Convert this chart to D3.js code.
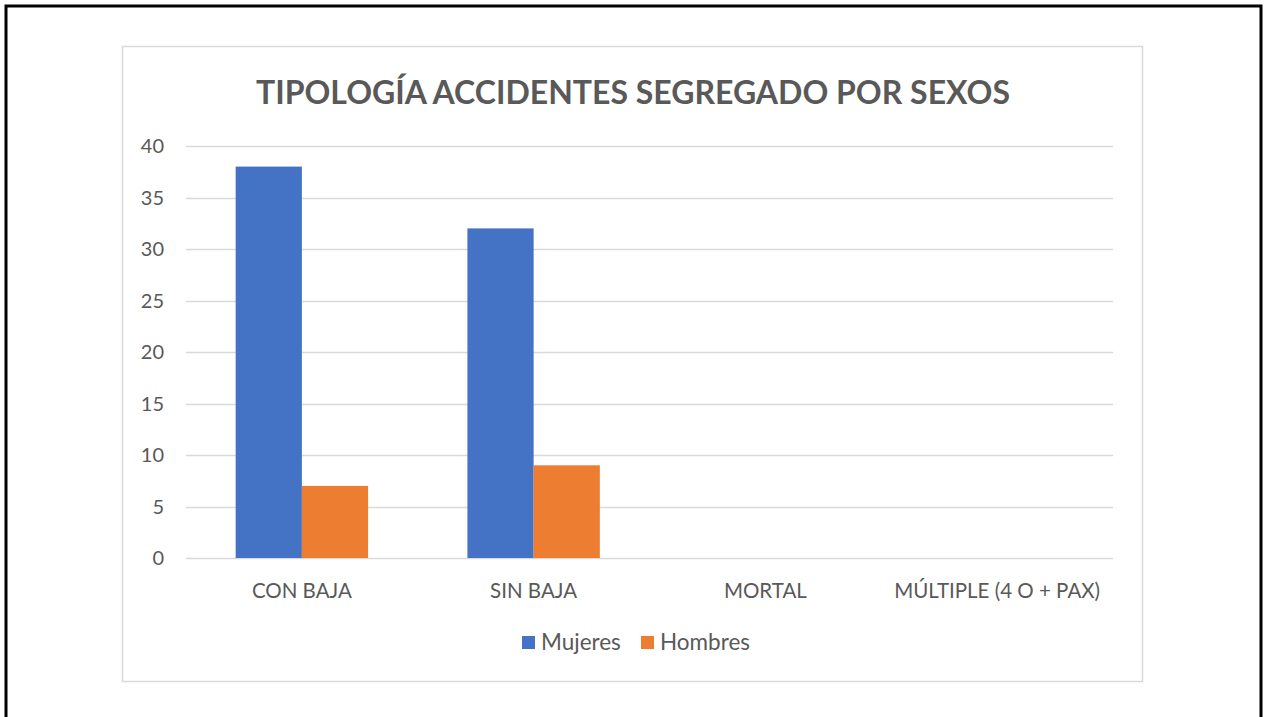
<!DOCTYPE html>
<html>
<head>
<meta charset="utf-8">
<script src="https://cdn.jsdelivr.net/npm/d3@7"></script>
<style>
  body { margin: 0; background: #fff; }
  svg { display: block; font-family: Lato, "Open Sans", sans-serif; }
</style>
</head>
<body>
<svg id="chart" width="1269" height="717"></svg>
<script>
var categories = ['CON BAJA', 'SIN BAJA', 'MORTAL', 'MÚLTIPLE (4 O + PAX)'];
var seriesNames = ['Mujeres', 'Hombres'];
var mujeres = [38, 32, 0, 0];
var hombres = [7, 9, 0, 0];
var yTicks = [0, 5, 10, 15, 20, 25, 30, 35, 40];
var colors = ['#4472C4', '#ED7D31'];

var svg = d3.select('#chart');

// outer frame (page border) and chart area border
svg.append('rect')
  .attr('x', 6).attr('y', 6).attr('width', 1255).attr('height', 730)
  .attr('fill', 'none').attr('stroke', '#000').attr('stroke-width', 3);
svg.append('rect')
  .attr('x', 122.5).attr('y', 46.5).attr('width', 1020).attr('height', 635)
  .attr('fill', '#fff').attr('stroke', '#d9d9d9').attr('stroke-width', 1.5);

var plot = { left: 186, right: 1113, top: 146, bottom: 558 };

var x = d3.scaleBand()
  .domain(categories)
  .range([plot.left, plot.right]);

// Excel gap width 150%: bar = band / (2 + 1.5)
var barW = x.bandwidth() / 3.5;
var xs = d3.scaleBand()
  .domain(seriesNames)
  .range([0, barW * 2]);

var y = d3.scaleLinear()
  .domain([0, 40])
  .range([plot.bottom, plot.top]);

// gridlines
svg.append('g')
  .selectAll('line')
  .data(yTicks)
  .enter()
  .append('line')
  .attr('x1', plot.left)
  .attr('x2', plot.right)
  .attr('y1', function (d) { return Math.round(y(d)) + 0.5; })
  .attr('y2', function (d) { return Math.round(y(d)) + 0.5; })
  .attr('stroke', '#d9d9d9')
  .attr('stroke-width', 1.5);

// y labels
svg.append('g')
  .selectAll('text')
  .data(yTicks)
  .enter()
  .append('text')
  .attr('x', 164)
  .attr('y', function (d) { return y(d); })
  .attr('dy', '0.35em')
  .attr('text-anchor', 'end')
  .attr('fill', '#595959')
  .attr('font-size', 20)
  .text(function (d) { return d; });

var rows = categories.map(function (c, i) {
  return { cat: c, values: [mujeres[i], hombres[i]] };
});

var groups = svg.append('g')
  .selectAll('g')
  .data(rows)
  .enter()
  .append('g')
  .attr('transform', function (d) {
    return 'translate(' + (x(d.cat) + (x.bandwidth() - barW * 2) / 2) + ',0)';
  });

groups.selectAll('rect')
  .data(function (d) {
    return d.values.map(function (v, j) { return { name: seriesNames[j], value: v, j: j }; });
  })
  .enter()
  .append('rect')
  .attr('x', function (d) { return xs(d.name); })
  .attr('width', xs.bandwidth())
  .attr('y', function (d) { return y(d.value); })
  .attr('height', function (d) { return y(0) - y(d.value); })
  .attr('fill', function (d) { return colors[d.j]; });

// category labels
svg.append('g')
  .selectAll('text')
  .data(categories)
  .enter()
  .append('text')
  .attr('x', function (d) { return x(d) + x.bandwidth() / 2; })
  .attr('y', 598)
  .attr('text-anchor', 'middle')
  .attr('fill', '#595959')
  .attr('font-size', 20.5)
  .text(function (d) { return d; });

// title
svg.append('text')
  .attr('x', 633)
  .attr('y', 104)
  .attr('text-anchor', 'middle')
  .attr('fill', '#595959')
  .attr('font-size', 32)
  .attr('font-weight', 'bold')
  .text('TIPOLOGÍA ACCIDENTES SEGREGADO POR SEXOS');

// legend
var legendItems = [
  { name: seriesNames[0], color: colors[0], x: 522 },
  { name: seriesNames[1], color: colors[1], x: 641 }
];
var legend = svg.append('g')
  .selectAll('g')
  .data(legendItems)
  .enter()
  .append('g')
  .attr('transform', function (d) { return 'translate(' + d.x + ',636)'; });
legend.append('rect')
  .attr('width', 13).attr('height', 13)
  .attr('fill', function (d) { return d.color; });
legend.append('text')
  .attr('x', 19)
  .attr('y', 14)
  .attr('fill', '#595959')
  .attr('font-size', 22.5)
  .text(function (d) { return d.name; });
</script>
</body>
</html>
